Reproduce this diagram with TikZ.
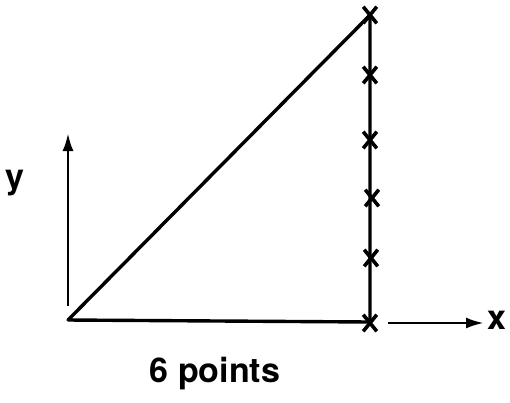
\documentclass[tikz,border=0pt]{standalone}
\usepackage{fontspec}
\setmainfont{TeX Gyre Heros}
\usetikzlibrary{arrows.meta,shapes.misc}
\begin{document}
\begin{tikzpicture}[x=1pt,y=-1pt,
  ln/.style={line width=3.4pt,line cap=round,line join=round},
  arr/.style={line width=2.8pt,-{Latex[length=18pt,width=11pt]}},
  xm/.style={cross out,draw,line width=3.6pt,minimum width=10pt,minimum height=13pt,inner sep=0pt},
  lbl/.style={font=\bfseries\fontsize{34}{36}\selectfont}]
\useasboundingbox (0,0) rectangle (510,402);
\coordinate (O) at (68,320);
\coordinate (T) at (370,15);
\coordinate (B) at (370,322);
\draw[ln] (O) -- (T) -- (B) -- (O);
\node[xm] (m0) at (370,15) {};
\node[xm] (m1) at (370,75) {};
\node[xm] (m2) at (370,140) {};
\node[xm] (m3) at (372,198) {};
\node[xm] (m4) at (371,258) {};
\node[xm] (m5) at (370,323) {};
\coordinate (ya) at (68,306);
\coordinate (yb) at (68,133);
\draw[arr] (ya) -- (yb);
\coordinate (xa) at (388,323);
\coordinate (xb) at (484,323);
\draw[arr] (xa) -- (xb);
\node[lbl] (ylab) at (15,183) {y};
\node[lbl] (xlab) at (497,320) {x};
\node[lbl] (cap) at (215,374) {6 points};
\end{tikzpicture}
\end{document}
